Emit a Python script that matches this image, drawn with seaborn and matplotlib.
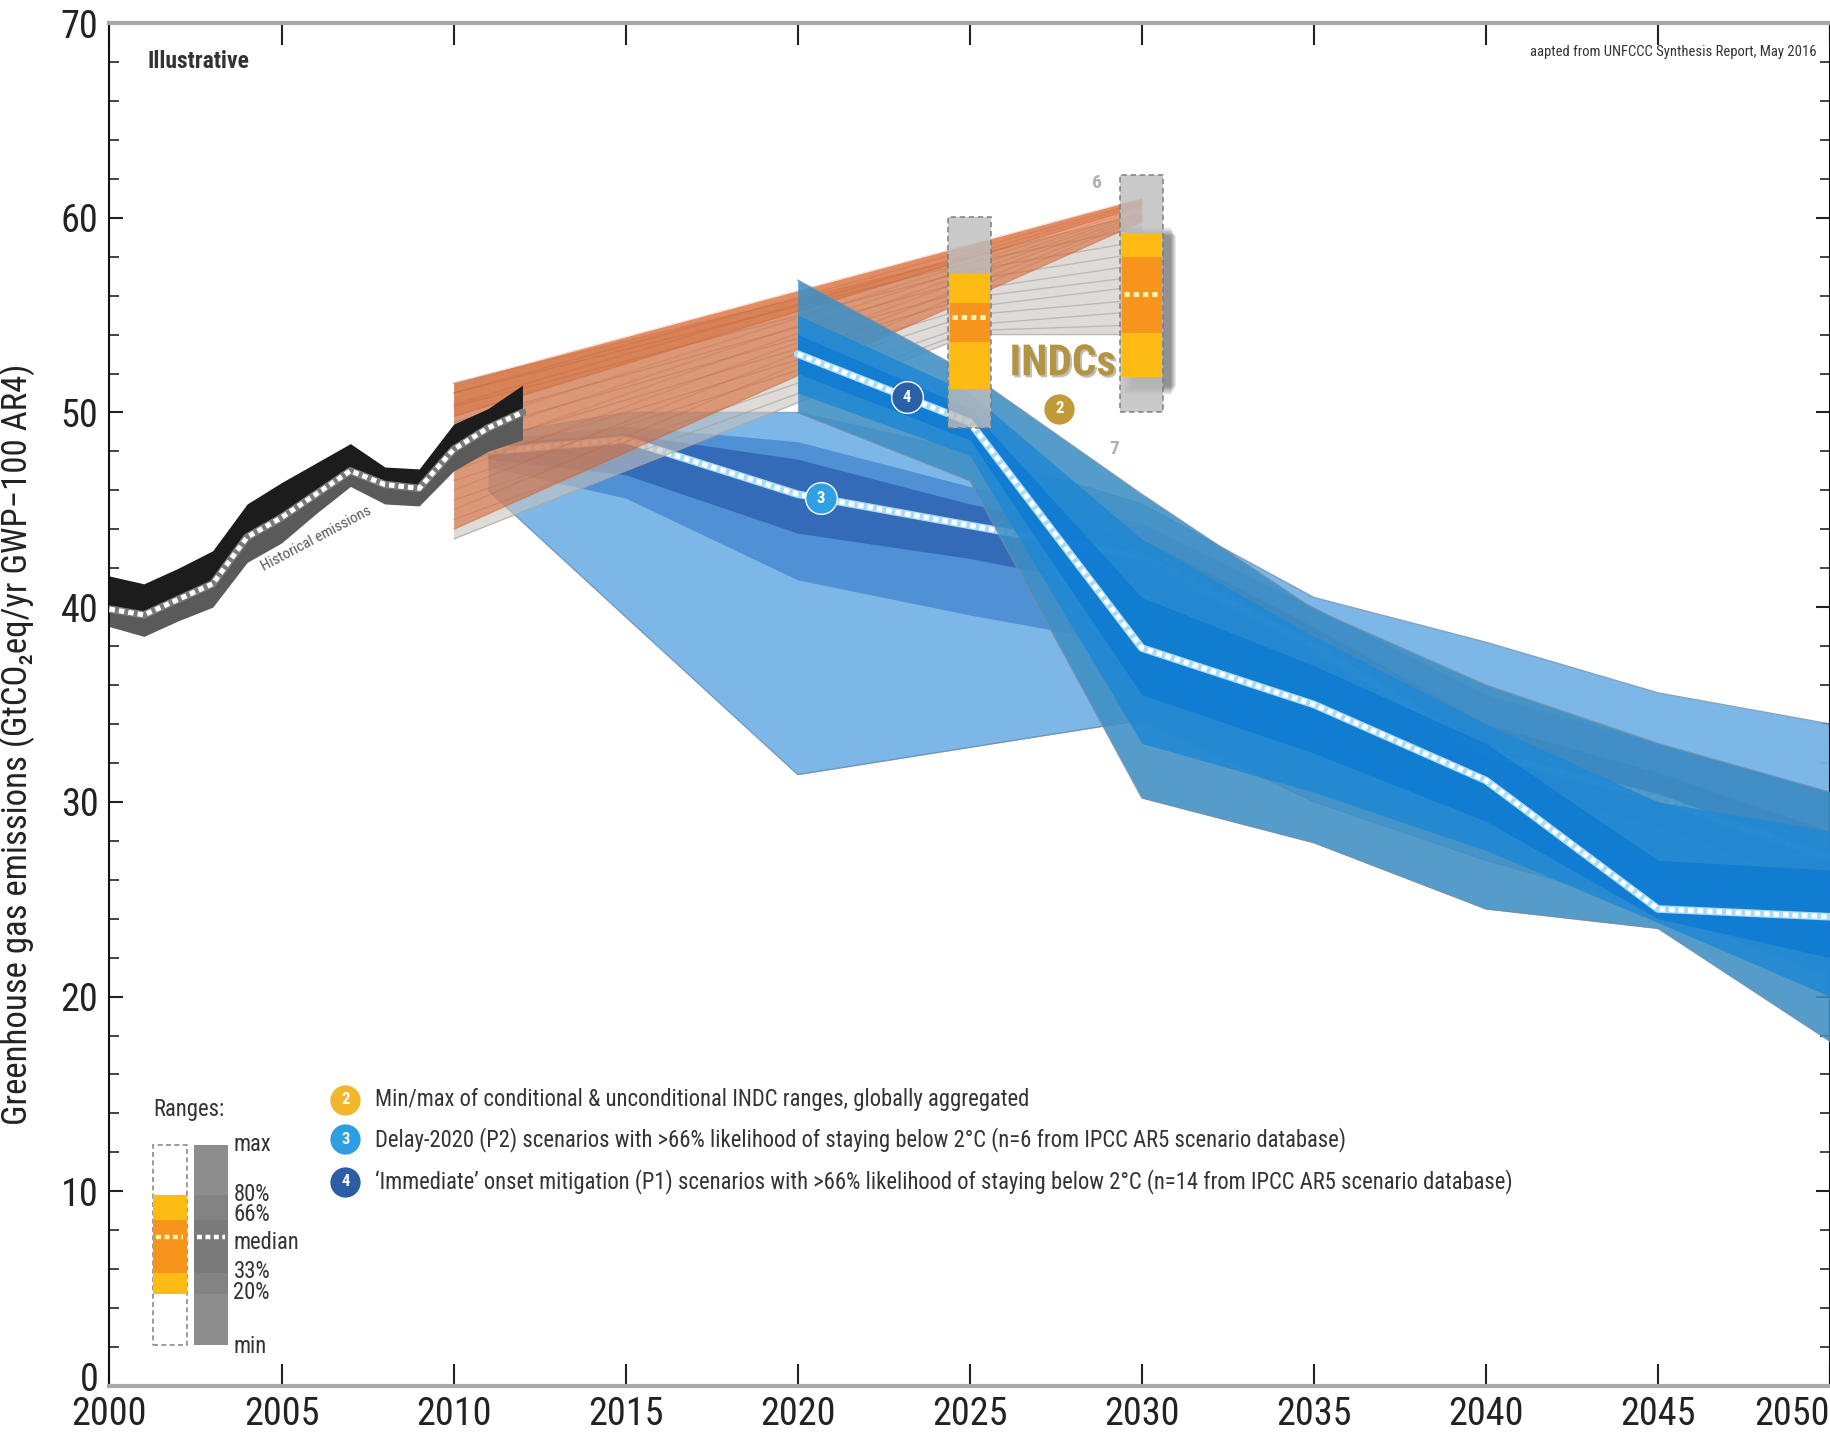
import numpy as np
import pandas as pd
import matplotlib
matplotlib.use("Agg")
import matplotlib.pyplot as plt
import matplotlib.transforms as mtransforms
import seaborn as sns
from matplotlib import font_manager
from matplotlib.patches import Rectangle
import matplotlib.patheffects as pe

# ---------------- data ----------------
hist_years = [2000, 2001, 2002, 2003, 2004, 2005, 2006, 2007, 2008, 2009, 2010, 2011, 2012]
hist_max = [41.6, 41.2, 42.0, 42.9, 45.3, 46.4, 47.4, 48.4, 47.2, 47.1, 49.4, 50.2, 51.4]
hist_median = [39.9, 39.6, 40.4, 41.2, 43.6, 44.6, 45.8, 47.0, 46.3, 46.1, 48.1, 49.2, 50.0]
hist_min = [39.0, 38.5, 39.3, 40.0, 42.3, 43.3, 44.8, 46.2, 45.3, 45.2, 47.0, 48.0, 48.6]

# Delay-2020 (P2) pathways
p2_years = [2011, 2015, 2020, 2025, 2030, 2035, 2040, 2045, 2050]
p2_max = [48.8, 50.0, 50.0, 48.0, 45.3, 40.5, 38.2, 35.6, 34.0]
p2_p80 = [48.6, 49.3, 48.5, 46.2, 44.3, 40.0, 35.5, 33.0, 30.5]
p2_p66 = [48.4, 48.9, 47.6, 45.3, 43.5, 39.0, 34.0, 31.5, 28.5]
p2_median = [48.0, 48.6, 45.8, 44.2, 42.6, 38.0, 32.5, 30.2, 27.1]
p2_p33 = [47.6, 46.8, 43.8, 42.5, 40.8, 36.5, 31.0, 28.8, 25.5]
p2_p20 = [47.2, 45.6, 41.4, 39.6, 38.0, 34.5, 29.5, 27.0, 23.5]
p2_min = [46.0, 39.5, 31.4, 32.8, 34.2, 30.0, 27.0, 24.5, 21.0]

# 'Immediate' onset (P1) pathways
p1_years = [2020, 2025, 2030, 2035, 2040, 2045, 2050]
p1_max = [56.8, 52.0, 45.8, 39.9, 36.0, 33.0, 30.5]
p1_p80 = [55.0, 51.0, 43.5, 38.5, 34.0, 30.0, 28.5]
p1_p66 = [54.0, 50.2, 40.5, 37.0, 33.0, 27.0, 26.5]
p1_median = [53.0, 49.5, 37.9, 35.0, 31.1, 24.5, 24.1]
p1_p33 = [52.0, 48.6, 35.5, 32.5, 29.0, 24.0, 22.0]
p1_p20 = [51.0, 47.8, 33.0, 30.5, 27.5, 23.8, 20.0]
p1_min = [50.0, 46.5, 30.2, 27.9, 24.5, 23.5, 17.7]

# INDC trajectories (2010 -> 2030)
indc_line_years = [2010, 2030]
orange_2010 = [44.0, 45.0, 46.0, 47.0, 47.8, 48.5, 49.2, 49.8, 50.4, 51.0, 51.5]
orange_2030 = [59.8, 60.0, 60.1, 60.2, 60.3, 60.4, 60.5, 60.6, 60.7, 60.8, 61.0]
grey_years = [2010, 2025, 2030]
grey_2010 = [43.5, 44.5, 45.5, 46.5, 47.3, 48.0, 48.8, 49.5, 50.3, 51.0, 51.5]
grey_2025 = [54.0, 54.2, 54.5, 55.0, 55.4, 55.9, 56.3, 56.8, 57.3, 57.7, 58.0]
grey_2030 = [54.0, 54.5, 55.2, 55.8, 56.5, 57.0, 57.6, 58.2, 58.8, 59.5, 60.2]

# aggregated INDC ranges
indc_years = [2025, 2030]
indc_min = [49.2, 50.0]
indc_p20 = [51.2, 51.8]
indc_p33 = [53.6, 54.1]
indc_median = [54.9, 56.1]
indc_p66 = [55.6, 58.0]
indc_p80 = [57.1, 59.2]
indc_max = [60.05, 62.2]

x_ticks = list(range(2000, 2051, 5))
y_ticks = list(range(0, 71, 10))

legend_texts = [
    "Min/max of conditional & unconditional INDC ranges, globally aggregated",
    "Delay-2020 (P2) scenarios with >66% likelihood of staying below 2\u00b0C (n=6 from IPCC AR5 scenario database)",
    "\u2018Immediate\u2019 onset mitigation (P1) scenarios with >66% likelihood of staying below 2\u00b0C (n=14 from IPCC AR5 scenario database)",
]
range_labels = ["max", "80%", "66%", "median", "33%", "20%", "min"]

# ---------------- style ----------------
sns.set_style("white")
names = {f.name for f in font_manager.fontManager.ttflist}
narrow = next((n for n in ["Liberation Sans Narrow", "Roboto Condensed", "Open Sans Condensed"] if n in names), None)
if narrow:
    plt.rcParams["font.family"] = [narrow, "DejaVu Sans"]
else:
    plt.rcParams["font.family"] = ["DejaVu Sans"]
    plt.rcParams["font.stretch"] = "condensed"

fig = plt.figure(figsize=(18.31, 14.4), dpi=100)
ax = fig.add_axes([0.0598, 0.0375, 0.9397, 0.9465])
ax.set_xlim(2000, 2050)
ax.set_ylim(0, 70)


def band(x, lo, hi, color, alpha, z, edge=None):
    ax.fill_between(x, lo, hi, color=color, alpha=alpha, lw=0, zorder=z)
    if edge:
        ax.plot(x, lo, color=edge, lw=1.0, zorder=z, alpha=0.8)
        ax.plot(x, hi, color=edge, lw=1.0, zorder=z, alpha=0.8)


def dotted_median(x, y, base, z):
    sns.lineplot(x=x, y=y, ax=ax, color=base, lw=5.5, zorder=z)
    sns.lineplot(x=x, y=y, ax=ax, color="white", lw=3.6, zorder=z + 0.1,
                 dashes=False, linestyle=(0, (1.1, 0.8)))


# P2 bands
band(p2_years, p2_min, p2_max, "#76b3e6", 0.95, 2, edge="#6b8fae")
band(p2_years, p2_p20, p2_p80, "#4c8cd4", 0.9, 2.1)
band(p2_years, p2_p33, p2_p66, "#2f65b4", 0.85, 2.2)
dotted_median(p2_years, p2_median, "#a9dcfb", 2.5)

# INDC trajectory fans
grey_df = pd.DataFrame({
    "year": np.repeat([grey_years], len(grey_2010), axis=0).ravel(),
    "value": np.column_stack([grey_2010, grey_2025, grey_2030]).ravel(),
    "line": np.repeat(np.arange(len(grey_2010)), len(grey_years)),
})
ax.fill_between(grey_years, [min(grey_2010), min(grey_2025), min(grey_2030)],
                [max(grey_2010), max(grey_2025), max(grey_2030)],
                color="#c8c3bf", alpha=0.6, lw=0, zorder=3)
sns.lineplot(data=grey_df, x="year", y="value", units="line", estimator=None,
             color="#a39d98", lw=1.0, alpha=0.55, ax=ax, zorder=3.1)

orange_df = pd.DataFrame({
    "year": np.repeat([indc_line_years], len(orange_2010), axis=0).ravel(),
    "value": np.column_stack([orange_2010, orange_2030]).ravel(),
    "line": np.repeat(np.arange(len(orange_2010)), len(indc_line_years)),
})
ax.fill_between(indc_line_years, [min(orange_2010), min(orange_2030)],
                [max(orange_2010), max(orange_2030)],
                color="#d8622a", alpha=0.55, lw=0, zorder=3.2)
ax.fill_between(indc_line_years, [orange_2010[-4], orange_2030[-4]],
                [max(orange_2010), max(orange_2030)],
                color="#d65a1e", alpha=0.35, lw=0, zorder=3.25)
sns.lineplot(data=orange_df, x="year", y="value", units="line", estimator=None,
             color="#c4541f", lw=1.2, alpha=0.18, ax=ax, zorder=3.3)

# P1 bands
band(p1_years, p1_min, p1_max, "#3f8fc4", 0.88, 4, edge="#6f8fa8")
band(p1_years, p1_p20, p1_p80, "#2088d4", 0.85, 4.1)
band(p1_years, p1_p33, p1_p66, "#0d7ad2", 0.8, 4.2)
dotted_median(p1_years, p1_median, "#a9dcfb", 4.5)

# historical emissions
ax.fill_between(hist_years, hist_median, hist_max, color="#1c1c1c", lw=0, zorder=5)
ax.fill_between(hist_years, hist_min, hist_median, color="#5a5a5a", lw=0, zorder=5)
dotted_median(hist_years, hist_median, "#7a7a7a", 5.5)
ax.text(2006.0, 43.5, "Historical emissions", rotation=28, ha="center", va="center",
        fontsize=11, color="#5a5a5a", zorder=6)

# INDC range bars
w = 1.25
for i, yr in enumerate(indc_years):
    if yr == 2030:
        # soft drop shadow
        for k in range(12):
            ax.bar(yr + 0.12 + 0.025 * k, indc_p80[i] - indc_p20[i] + 1.2 - 0.08 * k,
                   bottom=indc_p20[i] - 0.9 + 0.04 * k, width=w * 0.95 + 0.02 * (12 - k),
                   color="black", alpha=0.045, linewidth=0, zorder=6.8)
    ax.bar(yr, indc_max[i] - indc_min[i], bottom=indc_min[i], width=w,
           color="#bdbdbd", alpha=0.8, edgecolor="#7a7a7a", linestyle=(0, (3, 2)),
           linewidth=1.3, zorder=7)
    ax.bar(yr, indc_p80[i] - indc_p20[i], bottom=indc_p20[i], width=w * 0.93,
           color="#fdbb14", linewidth=0, zorder=7.1)
    ax.bar(yr, indc_p66[i] - indc_p33[i], bottom=indc_p33[i], width=w * 0.93,
           color="#f7941d", linewidth=0, zorder=7.2)
    ax.plot([yr - w * 0.42, yr + w * 0.42], [indc_median[i]] * 2, color="#fff3b0",
            lw=3.5, linestyle=(0, (1.1, 0.8)), zorder=7.3)

ax.text(2028.7, 61.8, "6", fontsize=14, color="#b0b0b0", fontweight="bold",
        ha="center", va="center", zorder=8)
ax.text(2029.2, 48.1, "7", fontsize=14, color="#b0b0b0", fontweight="bold",
        ha="center", va="center", zorder=8)
ax.text(2027.7, 52.5, "INDCs", fontsize=31, color="#b39443", fontweight="bold",
        ha="center", va="center", zorder=8,
        path_effects=[pe.withSimplePatchShadow(offset=(1.5, -1.5), alpha=0.3)])


def badge(x, y, label, color, z=9, size=520, fs=12):
    ax.scatter([x], [y], s=size, color=color, edgecolor="white", linewidth=1.0, zorder=z)
    ax.text(x, y, label, color="white", fontsize=fs, fontweight="bold",
            ha="center", va="center", zorder=z + 0.1)


badge(2027.6, 50.2, "2", "#c29a38")
badge(2020.67, float(np.interp(2020.67, p2_years, p2_median)), "3", "#2fa0e4")
badge(2023.18, float(np.interp(2023.18, p1_years, p1_median)), "4", "#2a60a8")

# scenario legend
badge_colors = ["#f2b62c", "#2e9de2", "#2c5ea6"]
for label, txt, col, yy in zip(["2", "3", "4"], legend_texts, badge_colors, [14.7, 12.66, 10.5]):
    badge(2006.85, yy, label, col)
    ax.text(2007.72, yy, txt, fontsize=16.3, color="#333333", ha="left", va="center", zorder=9)

# ranges key
ax.text(2002.3, 14.2, "Ranges:", fontsize=16.3, color="#333333", ha="center", va="center")
ax.add_patch(Rectangle((2001.26, 2.1), 0.98, 10.26, facecolor="white", edgecolor="#8a8a8a",
                       linestyle=(0, (3, 2)), lw=1.2, zorder=6))
ax.add_patch(Rectangle((2001.26, 4.7), 0.98, 5.1, facecolor="#fdbb14", lw=0, zorder=6.1))
ax.add_patch(Rectangle((2001.26, 5.8), 0.98, 2.72, facecolor="#f7941d", lw=0, zorder=6.2))
ax.plot([2001.35, 2002.15], [7.65, 7.65], color="#fff3b0", lw=3.2, linestyle=(0, (1.1, 0.8)), zorder=6.3)
ax.add_patch(Rectangle((2002.47, 2.1), 0.98, 10.28, facecolor="#8d8d8d", lw=0, zorder=6))
ax.add_patch(Rectangle((2002.47, 4.7), 0.98, 5.1, facecolor="#838383", lw=0, zorder=6.1))
ax.add_patch(Rectangle((2002.47, 5.8), 0.98, 2.72, facecolor="#7a7a7a", lw=0, zorder=6.2))
ax.plot([2002.55, 2003.37], [7.65, 7.65], color="white", lw=3.2, linestyle=(0, (1.1, 0.8)), zorder=6.3)
for lab, yy in zip(range_labels, [12.4, 9.85, 8.8, 7.35, 5.9, 4.8, 2.05]):
    ax.text(2003.6, yy, lab, fontsize=16.3, color="#333333", ha="left", va="center")

# annotations
ax.text(2001.09, 68.0, "Illustrative", fontsize=17, fontweight="bold", color="#333333",
        ha="left", va="center")
ax.text(2049.6, 68.5, "aapted from UNFCCC Synthesis Report, May 2016", fontsize=10.5,
        color="#333333", ha="right", va="center")

# axes
ax.set_xticks(x_ticks)
ax.set_yticks(y_ticks)
ax.set_yticks(np.arange(0, 71, 2), minor=True)
xt = ax.set_xticklabels([str(t) for t in x_ticks])
xt[-1].set_horizontalalignment("right")
ax.set_yticklabels([str(t) for t in y_ticks])
ax.tick_params(axis="x", which="major", direction="in", length=16, width=1.5, top=True,
               bottom=True, labelsize=27.5, pad=7, colors="#222222")
ax.tick_params(axis="y", which="major", direction="in", length=10, width=1.5, left=True,
               right=True, labelsize=27.5, pad=8, colors="#222222")
ax.tick_params(axis="y", which="minor", direction="in", length=7, width=1.2, left=True, right=True,
               colors="#222222")
# lift the zero label a little so it clears the year labels
zero_lbl = ax.get_yticklabels()[0]
zero_lbl.set_transform(zero_lbl.get_transform()
                       + mtransforms.ScaledTranslation(0, 7 / 72, fig.dpi_scale_trans))
ax.set_xlabel("")
ax.set_ylabel("Greenhouse gas emissions (GtCO\u2082eq/yr GWP\u2212100 AR4)", fontsize=25, color="#222222")
ax.yaxis.set_label_coords(-0.0433, 0.471)
for side in ["top", "bottom"]:
    ax.spines[side].set_color("#a8a8a8")
    ax.spines[side].set_linewidth(3.0)
for side in ["left", "right"]:
    ax.spines[side].set_color("#111111")
    ax.spines[side].set_linewidth(1.5)
ax.grid(False)

fig.savefig("out.png", dpi=100)
